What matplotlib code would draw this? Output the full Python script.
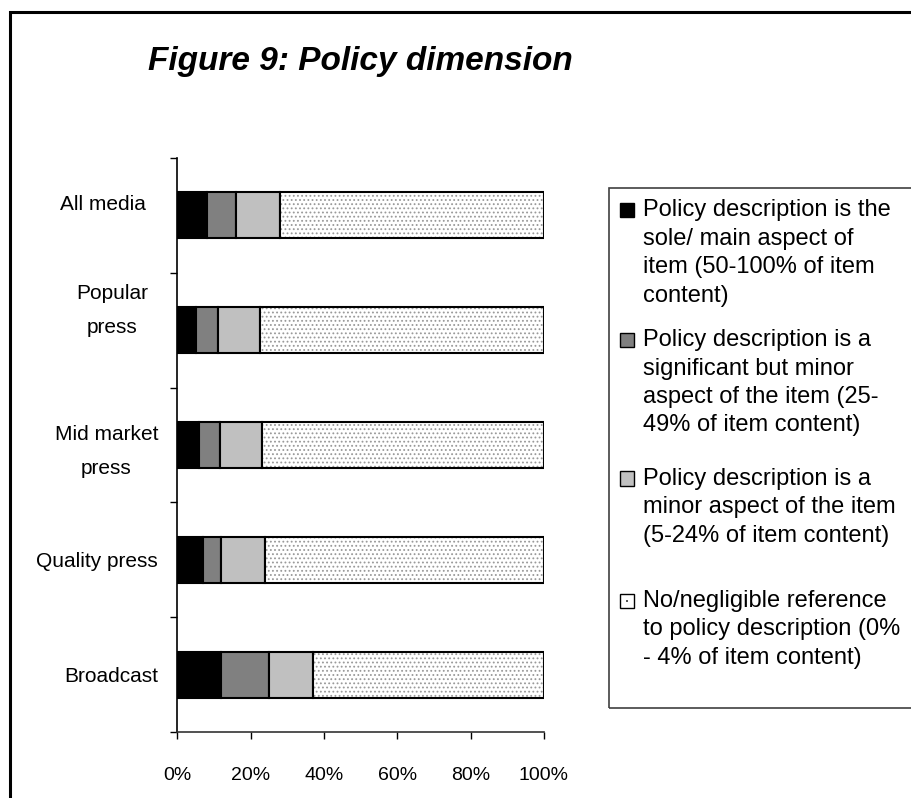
"""
Figure 9: policy dimension - stacked horizontal bars by media type
"""
import matplotlib
matplotlib.use('Agg')
import matplotlib.pyplot as plt
import matplotlib.transforms as mtransforms
from matplotlib.patches import Rectangle
import numpy as np

plt.rcParams['font.family'] = ['Liberation Sans', 'DejaVu Sans']
plt.rcParams['hatch.linewidth'] = 0.8

# share of items (%) per category
categories = ['All media', 'Popular\npress', 'Mid market\npress', 'Quality press', 'Broadcast']
sole_main = [8, 5, 6, 7, 12]
significant = [8, 6, 5.5, 5, 13]
minor = [12, 11.5, 11.5, 12, 12]
negligible = [72, 77.5, 77, 76, 63]

series_names = [
    ['Policy description is the', 'sole/ main aspect of', 'item (50-100% of item', 'content)'],
    ['Policy description is a', 'significant but minor', 'aspect of the item (25-', '49% of item content)'],
    ['Policy description is a', 'minor aspect of the item', '(5-24% of item content)'],
    ['No/negligible reference', 'to policy description (0%', '- 4% of item content)'],
]
fills = ['#000000', '#808080', '#c0c0c0', '#ffffff']

W, H = 912, 798
fig = plt.figure(figsize=(W / 100, H / 100), dpi=100)


def fx(px):
    return px / W


def fy(py):
    return 1 - py / H


# outer frame
fig.patches.append(Rectangle((fx(10.5), -0.02), 1.05, fy(11.5) + 0.02, transform=fig.transFigure,
                             fill=False, edgecolor='black', linewidth=2.2))

fig.text(fx(148), fy(70), 'Figure 9: Policy dimension', fontsize=24, fontweight='bold',
         fontstyle='italic', va='baseline', ha='left')

ax = fig.add_axes([fx(177.5), fy(732), fx(544) - fx(177.5), fy(158) - fy(732)])

y = np.arange(len(categories))
left = np.zeros(len(categories))
for vals, col in zip([sole_main, significant, minor], fills[:3]):
    ax.barh(y, vals, left=left, height=0.4, color=col, edgecolor='black', linewidth=1.5, zorder=3)
    left += np.array(vals)
# dotted segment: grey dots first, then black outline on top
ax.barh(y, negligible, left=left, height=0.4, color='white', edgecolor='#999999',
        hatch='....', linewidth=0, zorder=3)
ax.barh(y, negligible, left=left, height=0.4, fill=False, edgecolor='black', linewidth=1.5, zorder=4)

ax.set_xlim(0, 100)
ax.set_ylim(len(categories) - 0.5, -0.5)
ax.set_xticks([0, 20, 40, 60, 80, 100])
ax.set_xticklabels(['0%', '20%', '40%', '60%', '80%', '100%'], fontsize=14)
ax.set_yticks(y)
ax.set_yticklabels(categories, fontsize=15, multialignment='center', linespacing=2.0)
ax.set_yticks(np.arange(-0.5, len(categories)), minor=True)
ax.tick_params(axis='y', which='major', length=0, pad=14)
ax.tick_params(axis='y', which='minor', length=5, width=1, direction='out')
ax.tick_params(axis='x', length=5, width=1, direction='out', pad=20)
for s in ['top', 'right']:
    ax.spines[s].set_visible(False)
ax.spines['left'].set_linewidth(1.2)
ax.spines['bottom'].set_linewidth(1.2)
ax.spines['bottom'].set_color('#333333')

# the two top labels sit a little higher and further left
label_shift = [(-8.5, 9.5), (-7, 21), (0, 2), (0, 0), (0, 0)]
for lab, (dx, dy) in zip(ax.get_yticklabels(), label_shift):
    lab.set_transform(lab.get_transform() + mtransforms.ScaledTranslation(dx / 72, dy / 72, fig.dpi_scale_trans))

# legend box drawn by hand
fig.patches.append(Rectangle((fx(609), fy(708)), 1.0, fy(188) - fy(708), transform=fig.transFigure,
                             fill=False, edgecolor='#404040', linewidth=1.2))
first_baselines = [216, 346, 485, 607]
line_step = 28.5
for lines, col, b0 in zip(series_names, fills, first_baselines):
    sq = Rectangle((fx(620), fy(b0 + 0.5)), fx(634) - fx(620), fy(b0 - 13.5) - fy(b0 + 0.5),
                   transform=fig.transFigure, facecolor=col, edgecolor='black', linewidth=1.0)
    fig.patches.append(sq)
    if col == '#ffffff':
        fig.patches.append(Rectangle((fx(626), fy(b0 - 5.5)), fx(628) - fx(626), fy(b0 - 7.5) - fy(b0 - 5.5),
                                     transform=fig.transFigure, facecolor='#555555', linewidth=0))
    for k, line in enumerate(lines):
        fig.text(fx(643), fy(b0 + k * line_step), line, fontsize=17, va='baseline', ha='left')

plt.savefig('out.png', dpi=100)
